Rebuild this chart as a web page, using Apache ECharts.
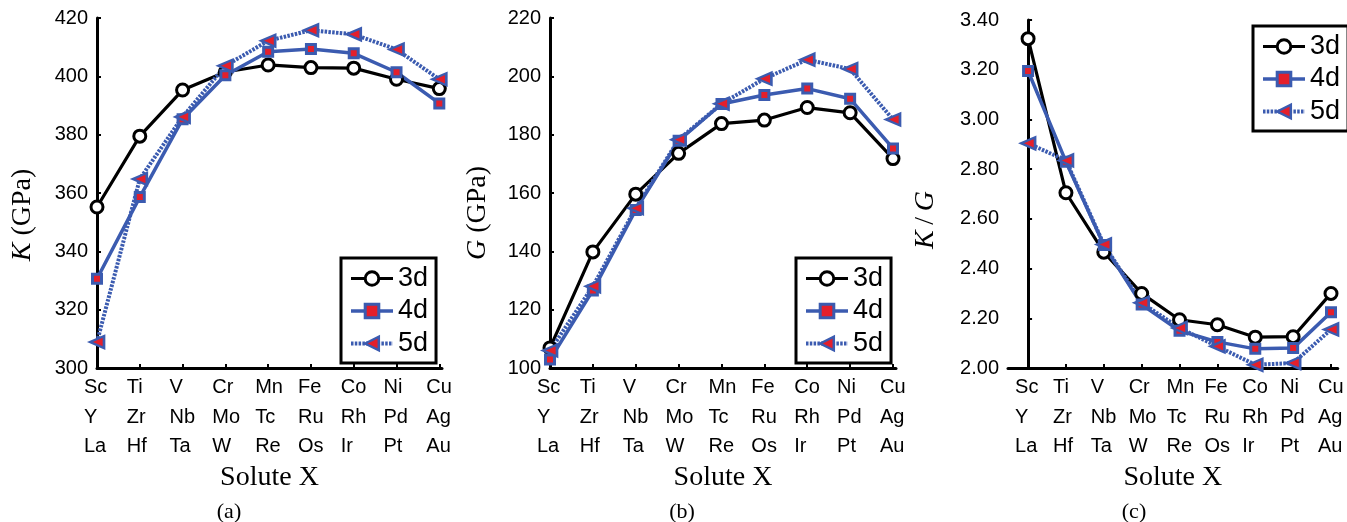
<!DOCTYPE html>
<html>
<head>
<meta charset="utf-8">
<title>Solute X</title>
<script src="https://cdn.jsdelivr.net/npm/echarts@6/dist/echarts.min.js"></script>
<style>
  html, body { margin: 0; padding: 0; background: #fff; }
  #chart { width: 1347px; height: 522px; }
</style>
</head>
<body>
<div id="chart"></div>
<script>
// solute rows (3d / 4d / 5d)
const row3d = ['Sc', 'Ti', 'V', 'Cr', 'Mn', 'Fe', 'Co', 'Ni', 'Cu']
const row4d = ['Y', 'Zr', 'Nb', 'Mo', 'Tc', 'Ru', 'Rh', 'Pd', 'Ag']
const row5d = ['La', 'Hf', 'Ta', 'W', 'Re', 'Os', 'Ir', 'Pt', 'Au']

// (a) bulk modulus K, GPa
const bulk3d = [355.2, 379.5, 395.3, 401.5, 403.9, 403.0, 402.8, 399.0, 395.8]
const bulk4d = [330.6, 358.6, 385.3, 400.4, 408.4, 409.4, 407.9, 401.4, 390.7]
const bulk5d = [308.9, 364.8, 386.1, 403.6, 412.2, 415.8, 414.4, 409.2, 399.0]

// (b) shear modulus G, GPa
const shear3d = [106.9, 139.8, 159.6, 173.6, 183.8, 185.0, 189.3, 187.5, 171.8]
const shear4d = [102.9, 126.6, 154.2, 177.9, 190.5, 193.6, 195.8, 192.3, 175.3]
const shear5d = [106.0, 128.0, 154.8, 178.3, 190.6, 199.2, 205.7, 202.5, 185.2]

// (c) K/G ratio
const ratio3d = [3.325, 2.705, 2.466, 2.300, 2.194, 2.174, 2.124, 2.126, 2.300]
const ratio4d = [3.195, 2.830, 2.495, 2.255, 2.150, 2.105, 2.077, 2.080, 2.224]
const ratio5d = [2.904, 2.835, 2.497, 2.262, 2.161, 2.087, 2.013, 2.020, 2.155]

const blue = '#3b5bb0'
const red = '#e41f2b'
const sans = 'Liberation Sans, Arial, sans-serif'
const serif = 'Liberation Serif, Times New Roman, serif'

const ticks = row3d.map((_, i) => i)

// line / marker styles shared by plots and legends
const style3d = {
  line: { color: '#000', width: 3.2 },
  item: { color: '#fff', borderColor: '#000', borderWidth: 3 }
}
const style4d = {
  line: { color: blue, width: 3.5 },
  item: { color: red, borderColor: blue, borderWidth: 3 }
}
const style5d = {
  line: { color: blue, width: 4, type: [2.5, 1.3] },
  item: { color: red, borderColor: blue, borderWidth: 2.5 }
}

function xAxisFor(idx, min, max) {
  return {
    type: 'value',
    gridIndex: idx,
    min: min,
    max: max,
    name: 'Solute X',
    nameLocation: 'middle',
    nameGap: 96,
    nameTextStyle: { fontFamily: serif, fontSize: 28, color: '#000' },
    axisLine: { lineStyle: { color: '#000', width: 3 } },
    axisTick: { inside: true, length: 4, customValues: ticks, lineStyle: { color: '#000', width: 2 } },
    splitLine: { show: false },
    axisLabel: {
      customValues: ticks,
      margin: 5,
      formatter: v => `{a|${row3d[v]}}\n{a|${row4d[v]}}\n{a|${row5d[v]}}`,
      rich: {
        a: { width: 26, align: 'left', fontFamily: sans, fontSize: 20, lineHeight: 29.5, color: '#000' }
      }
    }
  }
}

function yAxisFor(idx, min, max, interval, name, gap, shift, fmt) {
  return {
    type: 'value',
    gridIndex: idx,
    min: min,
    max: max,
    interval: interval,
    name: name,
    nameLocation: 'middle',
    nameRotate: 90,
    nameGap: gap,
    nameTextStyle: {
      fontFamily: serif, fontSize: 28, color: '#000',
      padding: [0, shift, 0, 0],
      rich: { i: { fontFamily: serif, fontSize: 28, fontStyle: 'italic', color: '#000' } }
    },
    axisLine: { show: true, lineStyle: { color: '#000', width: 3 } },
    axisTick: { show: true, inside: true, length: 4, lineStyle: { color: '#000', width: 2 } },
    splitLine: { show: false },
    axisLabel: { margin: 9, fontFamily: sans, fontSize: 20, color: '#000', formatter: fmt }
  }
}

function seriesFor(idx, d3, d4, d5) {
  const pts = arr => arr.map((v, i) => [i, v])
  return [
    {
      name: '3d', type: 'line', xAxisIndex: idx, yAxisIndex: idx,
      data: pts(d3),
      symbol: 'circle', symbolSize: 12,
      lineStyle: style3d.line,
      itemStyle: style3d.item
    },
    {
      name: '4d', type: 'line', xAxisIndex: idx, yAxisIndex: idx,
      data: pts(d4),
      symbol: 'rect', symbolSize: 9,
      lineStyle: style4d.line,
      itemStyle: style4d.item
    },
    {
      name: '5d', type: 'line', xAxisIndex: idx, yAxisIndex: idx,
      data: pts(d5),
      symbol: 'triangle', symbolSize: [12, 14], symbolRotate: 90,
      lineStyle: style5d.line,
      itemStyle: style5d.item
    }
  ]
}

function legendFor(left, top) {
  return {
    data: [
      { name: '3d', lineStyle: style3d.line, itemStyle: style3d.item },
      { name: '4d', lineStyle: style4d.line, itemStyle: style4d.item },
      { name: '5d', lineStyle: style5d.line, itemStyle: style5d.item }
    ],
    orient: 'vertical',
    left: left,
    top: top,
    itemWidth: 42,
    itemHeight: 17,
    itemGap: 5.5,
    padding: [7, 8, 6, 8],
    borderColor: '#000',
    borderWidth: 3,
    selectedMode: false,
    textStyle: { fontFamily: sans, fontSize: 27, color: '#000' }
  }
}

const chart = echarts.init(document.getElementById('chart'))

chart.setOption({
  animation: false,
  backgroundColor: '#fff',
  grid: [
    { left: 97, top: 18, width: 345, height: 350 },
    { left: 550, top: 18, width: 346, height: 350 },
    { left: 1008, top: 20, width: 332, height: 348 }
  ],
  xAxis: [
    xAxisFor(0, 0, 8.063),
    xAxisFor(1, 0, 8.07),
    xAxisFor(2, -0.53, 8.178)
  ],
  yAxis: [
    yAxisFor(0, 300, 420, 20, '{i|K} (GPa)', 60, 44),
    yAxisFor(1, 100, 220, 20, '{i|G} (GPa)', 58, 40),
    yAxisFor(2, 2.0, 3.4, 0.2, '{i|K}\u2009/\u2009{i|G}', 68, 52, v => v.toFixed(2))
  ],
  legend: [
    legendFor(341, 258),
    legendFor(796, 258),
    legendFor(1253, 26)
  ],
  graphic: [
    { type: 'text', x: 229, y: 512, style: { text: '(a)', fontFamily: serif, fontSize: 22, fill: '#000', textAlign: 'center', textVerticalAlign: 'middle' } },
    { type: 'text', x: 682, y: 512, style: { text: '(b)', fontFamily: serif, fontSize: 22, fill: '#000', textAlign: 'center', textVerticalAlign: 'middle' } },
    { type: 'text', x: 1134, y: 512, style: { text: '(c)', fontFamily: serif, fontSize: 22, fill: '#000', textAlign: 'center', textVerticalAlign: 'middle' } }
  ],
  series: [
    ...seriesFor(0, bulk3d, bulk4d, bulk5d),
    ...seriesFor(1, shear3d, shear4d, shear5d),
    ...seriesFor(2, ratio3d, ratio4d, ratio5d)
  ]
})
</script>
</body>
</html>
